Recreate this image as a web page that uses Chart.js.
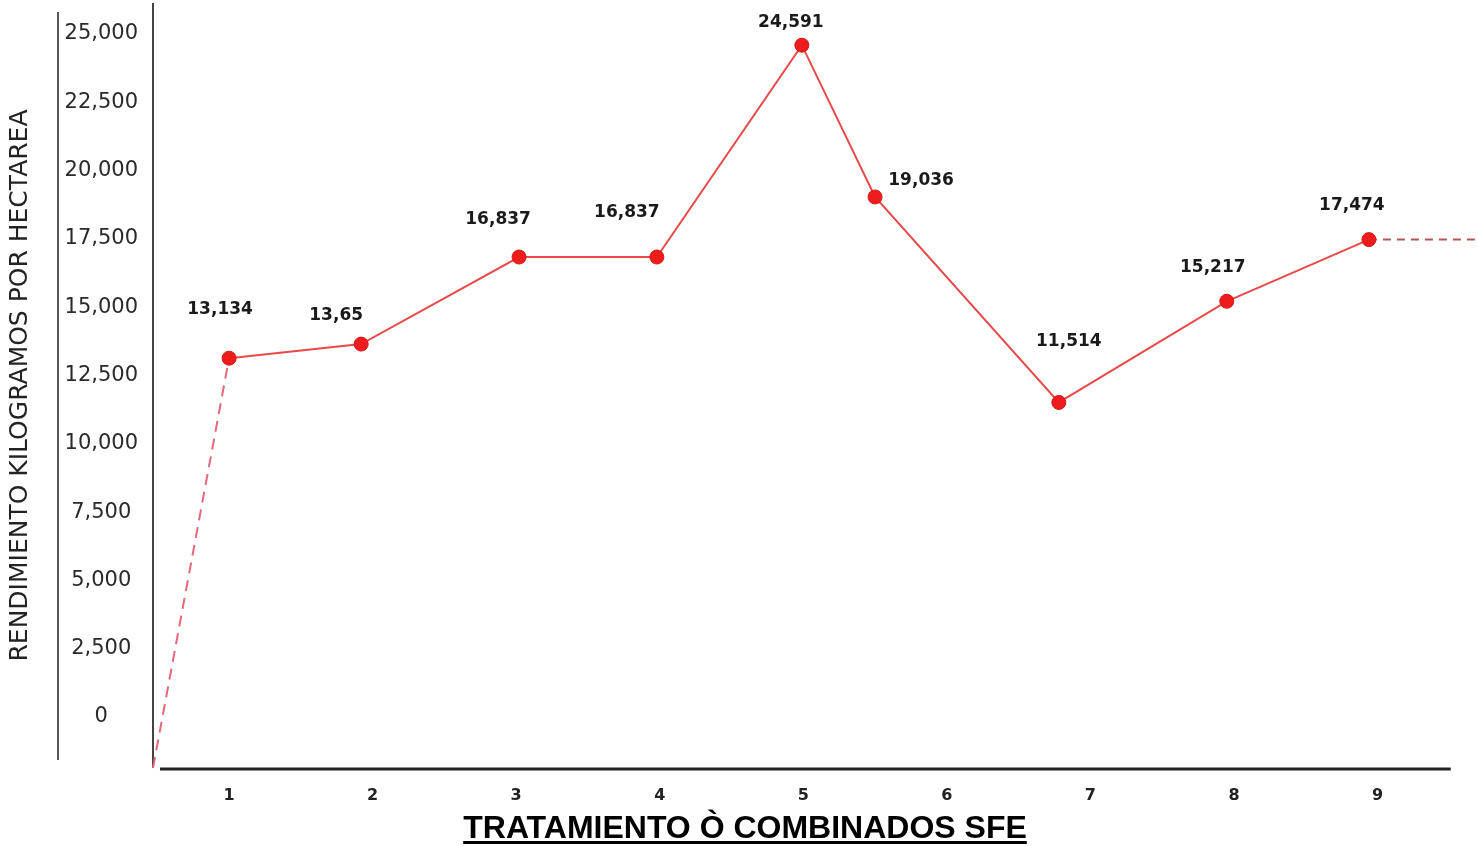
<!DOCTYPE html>
<html lang="es">
<head>
<meta charset="utf-8">
<title>Rendimiento por tratamiento</title>
<script src="https://cdn.jsdelivr.net/npm/chart.js@4.4.1/dist/chart.umd.min.js"></script>
<style>
  html, body { margin: 0; padding: 0; background: #fff; }
  #grafico { display: block; }
</style>
</head>
<body>
<canvas id="grafico" width="1478" height="846"></canvas>
<script>
// Tratamientos del eje X y rendimiento (kg/ha) de cada uno
const tratamientos = [1, 2, 3, 4, 5, 6, 7, 8, 9];
const posicionX = [1, 1.92, 3.02, 3.98, 4.99, 5.5, 6.78, 7.95, 8.94];
const rendimiento = [13134, 13650, 16837, 16837, 24591, 19036, 11514, 15217, 17474];
const etiquetas = ['13,134', '13,65', '16,837', '16,837', '24,591', '19,036', '11,514', '15,217', '17,474'];
const marcasY = [0, 2500, 5000, 7500, 10000, 12500, 15000, 17500, 20000, 22500, 25000];

// limites de los ejes (el eje X arranca un poco por debajo de 0)
const X_MIN = 0.47, X_MAX = 9.7;
const Y_MIN = -1867, Y_MAX = 26135;

// desplazamiento de cada etiqueta respecto a su punto
const desfaseEtiqueta = [
    [-9, -49], [-25, -29], [-21, -37], [-30, -44], [-11, -23],
    [46, -16], [10, -61], [-14, -34], [-17, -34]
];

const puntos = posicionX.map((x, i) => ({ x: x, y: rendimiento[i] }));

// lineas del marco: linea exterior, eje Y y eje X
const marcoPlugin = {
    id: 'marco',
    beforeDatasetsDraw(chart) {
        const { ctx, chartArea, scales } = chart;
        ctx.save();
        ctx.strokeStyle = '#555';
        ctx.lineWidth = 2;
        ctx.beginPath();
        ctx.moveTo(58, 12);
        ctx.lineTo(58, 760);
        ctx.stroke();

        ctx.strokeStyle = '#444';
        ctx.beginPath();
        ctx.moveTo(chartArea.left, chartArea.top);
        ctx.lineTo(chartArea.left, chartArea.bottom);
        ctx.stroke();

        ctx.strokeStyle = '#222';
        ctx.lineWidth = 3;
        ctx.beginPath();
        ctx.moveTo(chartArea.left + 7, chartArea.bottom + 1);
        ctx.lineTo(scales.x.getPixelForValue(9.51), chartArea.bottom + 1);
        ctx.stroke();
        ctx.restore();
    }
};

// valores encima de cada punto
const etiquetasPlugin = {
    id: 'etiquetasValor',
    afterDatasetsDraw(chart) {
        const ctx = chart.ctx;
        const meta = chart.getDatasetMeta(0);
        ctx.save();
        ctx.font = 'bold 17px "DejaVu Sans"';
        ctx.fillStyle = '#1a1a1a';
        ctx.textAlign = 'center';
        ctx.textBaseline = 'middle';
        meta.data.forEach((el, i) => {
            const d = desfaseEtiqueta[i];
            ctx.fillText(etiquetas[i], el.x + d[0], el.y + d[1]);
        });
        ctx.restore();
    }
};

// titulo del eje X, subrayado
const tituloXPlugin = {
    id: 'tituloX',
    afterDraw(chart) {
        const ctx = chart.ctx;
        const texto = 'TRATAMIENTO Ò COMBINADOS SFE';
        const cx = chart.width / 2 + 6;
        ctx.save();
        ctx.font = 'bold 32px "Liberation Sans"';
        ctx.fillStyle = '#000';
        ctx.textAlign = 'center';
        ctx.textBaseline = 'alphabetic';
        ctx.fillText(texto, cx, 838);
        const w = ctx.measureText(texto).width;
        ctx.fillRect(cx - w / 2, 841, w, 3);
        ctx.restore();
    }
};

const chart = new Chart(document.getElementById('grafico'), {
    type: 'line',
    data: {
        datasets: [
            {
                label: 'Rendimiento',
                data: puntos,
                borderColor: '#e84a4a',
                borderWidth: 2,
                pointRadius: 7,
                pointHoverRadius: 7,
                pointBackgroundColor: '#ee1c1c',
                pointBorderColor: '#d91616',
                pointBorderWidth: 1,
                order: 0,
                clip: false
            },
            {
                // tramo discontinuo desde el origen
                label: 'inicio',
                data: [{ x: X_MIN, y: Y_MIN }, puntos[0]],
                borderColor: '#e5677a',
                borderWidth: 2,
                borderDash: [11, 7],
                pointRadius: 0,
                order: 1,
                clip: false
            },
            {
                // prolongacion discontinua a la derecha
                label: 'final',
                data: [puntos[puntos.length - 1], { x: X_MAX, y: rendimiento[rendimiento.length - 1] }],
                borderColor: '#b75555',
                borderWidth: 2,
                borderDash: [8, 6],
                pointRadius: 0,
                order: 1,
                clip: false
            }
        ]
    },
    options: {
        responsive: false,
        devicePixelRatio: 1,
        animation: false,
        layout: {
            autoPadding: false,
            padding: { top: 3, left: 0, right: 0, bottom: 0 }
        },
        plugins: {
            legend: { display: false },
            tooltip: { enabled: false }
        },
        scales: {
            x: {
                type: 'linear',
                min: X_MIN,
                max: X_MAX,
                afterBuildTicks: s => { s.ticks = tratamientos.map(v => ({ value: v })); },
                ticks: {
                    autoSkip: false,
                    maxRotation: 0,
                    padding: 18,
                    color: '#222',
                    font: { family: 'DejaVu Sans', weight: 'bold', size: 16 }
                },
                grid: { display: false, drawTicks: false },
                border: { display: false },
                afterFit: s => {
                    s.height = 78;
                    s.paddingLeft = 0;
                    s.paddingRight = 0;
                }
            },
            y: {
                type: 'linear',
                min: Y_MIN,
                max: Y_MAX,
                afterBuildTicks: s => { s.ticks = marcasY.map(v => ({ value: v })); },
                ticks: {
                    crossAlign: 'center',
                    padding: 15,
                    color: '#2a2a2a',
                    font: { family: 'DejaVu Sans', size: 21 },
                    callback: v => v.toLocaleString('en-US')
                },
                grid: { display: false, drawTicks: false },
                border: { display: false },
                title: {
                    display: true,
                    text: 'RENDIMIENTO KILOGRAMOS POR HECTAREA',
                    color: '#222',
                    font: { family: 'DejaVu Sans', size: 25 },
                    padding: { top: 5, bottom: 0 }
                },
                afterFit: s => {
                    s.width = 153;
                    s.paddingTop = 0;
                    s.paddingBottom = 0;
                }
            }
        }
    },
    plugins: [marcoPlugin, etiquetasPlugin, tituloXPlugin]
});
</script>
</body>
</html>
